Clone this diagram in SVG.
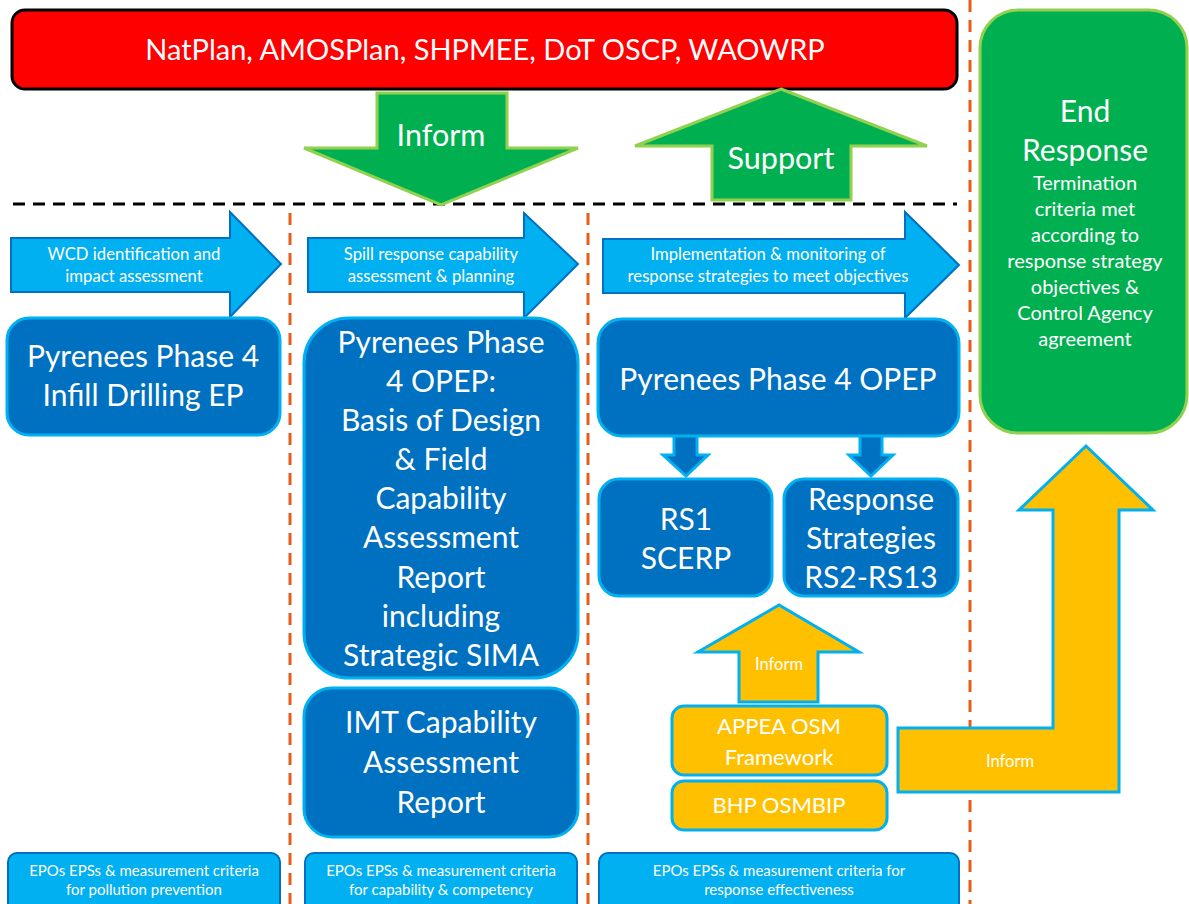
<svg xmlns="http://www.w3.org/2000/svg" width="1189" height="904" viewBox="0 0 1189 904">
<style>
text{font-family:Lato,"Open Sans","Liberation Sans",sans-serif;fill:#fff;text-anchor:middle}
.t32{font-size:30px}
.tb{font-size:29px}
.t28{font-size:30.5px}
.t22{font-size:22px}
.t18{font-size:20px}
.t16{font-size:16.7px}
.t14{font-size:15px}
.ti{font-size:16.5px}
.grn{fill:#00B050;stroke:#92D050;stroke-width:3}
.lb{fill:#00B0F0;stroke:#0070C0;stroke-width:2}
.db{fill:#0070C0;stroke:#00B0F0;stroke-width:3}
.or{fill:#FFC000;stroke:#00B0F0;stroke-width:3}
.vd{stroke:#E65C1A;stroke-width:3;stroke-dasharray:12 8;fill:none}
</style>
<rect width="1189" height="904" fill="#fff"/>
<g id="guides">
<line class="vd" x1="290" y1="213" x2="290" y2="904"/>
<line class="vd" x1="588" y1="213" x2="588" y2="904"/>
<line class="vd" x1="970" y1="0" x2="970" y2="904"/>
<line x1="13" y1="204" x2="957" y2="204" stroke="#000" stroke-width="3" stroke-dasharray="12 8"/>
</g>
<g id="banner">
<rect x="12" y="10" width="945" height="79" rx="13" fill="#FF0000" stroke="#000" stroke-width="3"/>
<text x="485" y="60" class="tb">NatPlan, AMOSPlan, SHPMEE, DoT OSCP, WAOWRP</text>
</g>
<g id="connectors">
<g id="inform-top"><path class="grn" d="M377,93 H507 V148 H578 L441,205 L304,148 H377 Z"/><text x="441" y="146" class="t28">Inform</text></g>
<g id="support-top"><path class="grn" d="M781,89 L927,146 H851 V200 H712 V146 H635 Z"/><text x="781" y="169" class="t28">Support</text></g>
<g id="arrow1"><path class="lb" d="M11,238 H230 V212 L281,264 L230,317 V292 H11 Z"/><text x="134" y="260" class="t16">WCD identification and</text><text x="134" y="282" class="t16">impact assessment</text></g>
<g id="arrow2"><path class="lb" d="M308,238 H524 V213 L578,264 L524,318 V292 H308 Z"/><text x="431" y="260" class="t16">Spill response capability</text><text x="431" y="282" class="t16">assessment &amp; planning</text></g>
<g id="arrow3"><path class="lb" d="M603,239 H905 V212 L959,265 L905,318 V293 H603 Z"/><text x="768" y="260" class="t16">Implementation &amp; monitoring of</text><text x="768" y="282" class="t16">response strategies to meet objectives</text></g>
<path id="down1" class="db" d="M674,430 H697 V455 H708 L686,476 L663,455 H674 Z"/>
<path id="down2" class="db" d="M860,430 H882 V455 H893 L871,476 L849,455 H860 Z"/>
<g id="inform-orange"><path class="or" d="M739,702 V652 H698 L779,605 L859,652 H818 V702 Z"/><text x="779" y="670" class="ti">Inform</text></g>
<g id="inform-L"><path class="or" d="M898,728 H1053 V510 H1019 L1086,446 L1153,510 H1119 V792 H898 Z"/><text x="1010" y="767" class="ti">Inform</text></g>
</g>
<g id="end-response">
<rect x="980" y="10" width="207" height="423" rx="38" class="grn"/>
<text x="1085" y="122" class="t32">End</text>
<text x="1085" y="161" class="t32">Response</text>
<text x="1085" y="190" class="t18">Termination</text>
<text x="1085" y="216" class="t18">criteria met</text>
<text x="1085" y="242" class="t18">according to</text>
<text x="1085" y="268" class="t18">response strategy</text>
<text x="1085" y="294" class="t18">objectives &amp;</text>
<text x="1085" y="320" class="t18">Control Agency</text>
<text x="1085" y="346" class="t18">agreement</text>
</g>
<g id="box-ep">
<rect x="7" y="318" width="273" height="117" rx="22" class="db"/>
<text x="143" y="367" class="t32">Pyrenees Phase 4</text>
<text x="143" y="406" class="t32">Infill Drilling EP</text>
</g>
<g id="box-bod">
<rect x="304" y="318" width="274" height="360" rx="45" class="db"/>
<text x="441" y="353" class="t32">Pyrenees Phase</text>
<text x="441" y="392" class="t32">4 OPEP:</text>
<text x="441" y="431" class="t32">Basis of Design</text>
<text x="441" y="470" class="t32">&amp; Field</text>
<text x="441" y="509" class="t32">Capability</text>
<text x="441" y="548" class="t32">Assessment</text>
<text x="441" y="588" class="t32">Report</text>
<text x="441" y="627" class="t32">including</text>
<text x="441" y="666" class="t32">Strategic SIMA</text>
</g>
<g id="box-imt">
<rect x="304" y="688" width="274" height="149" rx="28" class="db"/>
<text x="441" y="733" class="t32">IMT Capability</text>
<text x="441" y="773" class="t32">Assessment</text>
<text x="441" y="813" class="t32">Report</text>
</g>
<g id="box-opep">
<rect x="598" y="319" width="361" height="117" rx="24" class="db"/>
<text x="778" y="390" class="t32">Pyrenees Phase 4 OPEP</text>
</g>
<g id="box-rs1">
<rect x="599" y="479" width="173" height="117" rx="20" class="db"/>
<text x="686" y="530" class="t32">RS1</text>
<text x="686" y="569" class="t32">SCERP</text>
</g>
<g id="box-rs2">
<rect x="784" y="479" width="174" height="117" rx="20" class="db"/>
<text x="871" y="510" class="t32">Response</text>
<text x="871" y="549" class="t32">Strategies</text>
<text x="871" y="588" class="t32">RS2-RS13</text>
</g>
<g id="box-appea">
<rect x="672" y="706" width="215" height="69" rx="12" class="or"/>
<text x="779" y="734" class="t22">APPEA OSM</text>
<text x="779" y="765" class="t22">Framework</text>
</g>
<g id="box-bhp">
<rect x="672" y="781" width="215" height="49" rx="12" class="or"/>
<text x="779" y="813" class="t22">BHP OSMBIP</text>
</g>
<g id="epo1">
<rect x="8" y="853" width="272" height="60" rx="9" class="lb"/>
<text x="144" y="876" class="t14">EPOs EPSs &amp; measurement criteria</text>
<text x="144" y="895" class="t14">for pollution prevention</text>
</g>
<g id="epo2">
<rect x="305" y="853" width="272" height="60" rx="9" class="lb"/>
<text x="441" y="876" class="t14">EPOs EPSs &amp; measurement criteria</text>
<text x="441" y="895" class="t14">for capability &amp; competency</text>
</g>
<g id="epo3">
<rect x="599" y="853" width="360" height="60" rx="9" class="lb"/>
<text x="779" y="876" class="t14">EPOs EPSs &amp; measurement criteria for</text>
<text x="779" y="895" class="t14">response effectiveness</text>
</g>
</svg>
